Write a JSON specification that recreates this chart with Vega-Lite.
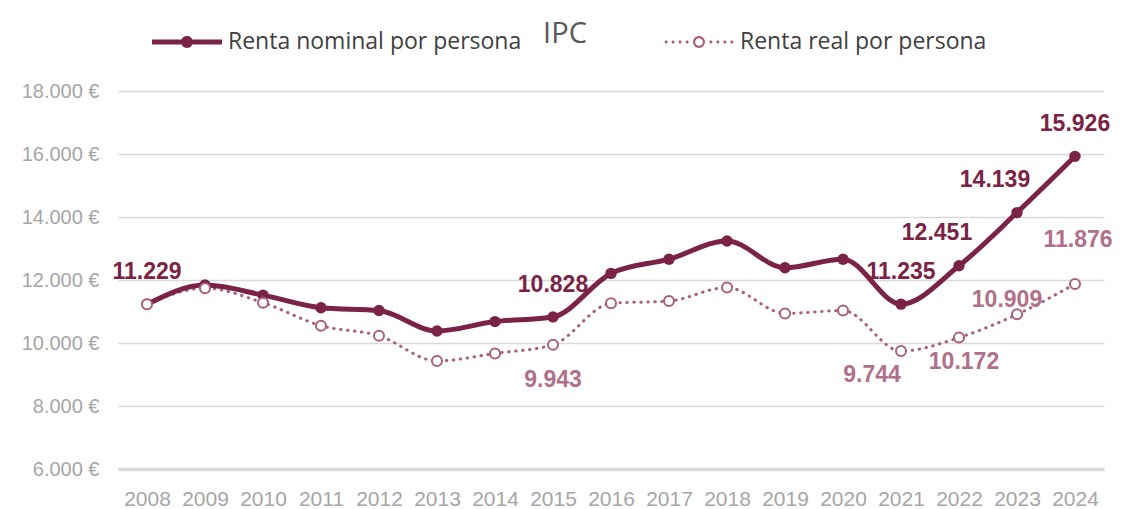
{
  "$schema": "https://vega.github.io/schema/vega-lite/v6.json",
  "width": 986,
  "height": 378,
  "autosize": {"type": "none"},
  "padding": {"left": 118, "top": 91, "right": 24, "bottom": 40},
  "background": "white",
  "config": {
    "view": {"stroke": null},
    "locale": {"number": {"decimal": ",", "thousands": ".", "grouping": [3], "currency": ["", " €"]}}
  },
  "title": {"text": "IPC", "fontSize": 29, "font": "Open Sans", "fontWeight": "normal", "color": "#595959", "anchor": "middle", "frame": "group", "baseline": "alphabetic", "dx": -46, "offset": -65},
  "data": {"values": [
    {"year": "2008", "serie": "Renta nominal por persona", "value": 11229},
    {"year": "2009", "serie": "Renta nominal por persona", "value": 11840},
    {"year": "2010", "serie": "Renta nominal por persona", "value": 11520},
    {"year": "2011", "serie": "Renta nominal por persona", "value": 11120},
    {"year": "2012", "serie": "Renta nominal por persona", "value": 11030},
    {"year": "2013", "serie": "Renta nominal por persona", "value": 10380},
    {"year": "2014", "serie": "Renta nominal por persona", "value": 10680},
    {"year": "2015", "serie": "Renta nominal por persona", "value": 10828},
    {"year": "2016", "serie": "Renta nominal por persona", "value": 12210},
    {"year": "2017", "serie": "Renta nominal por persona", "value": 12660},
    {"year": "2018", "serie": "Renta nominal por persona", "value": 13240},
    {"year": "2019", "serie": "Renta nominal por persona", "value": 12390},
    {"year": "2020", "serie": "Renta nominal por persona", "value": 12660},
    {"year": "2021", "serie": "Renta nominal por persona", "value": 11235},
    {"year": "2022", "serie": "Renta nominal por persona", "value": 12451},
    {"year": "2023", "serie": "Renta nominal por persona", "value": 14139},
    {"year": "2024", "serie": "Renta nominal por persona", "value": 15926},
    {"year": "2008", "serie": "Renta real por persona", "value": 11229},
    {"year": "2009", "serie": "Renta real por persona", "value": 11740},
    {"year": "2010", "serie": "Renta real por persona", "value": 11280},
    {"year": "2011", "serie": "Renta real por persona", "value": 10550},
    {"year": "2012", "serie": "Renta real por persona", "value": 10230},
    {"year": "2013", "serie": "Renta real por persona", "value": 9430},
    {"year": "2014", "serie": "Renta real por persona", "value": 9670},
    {"year": "2015", "serie": "Renta real por persona", "value": 9943},
    {"year": "2016", "serie": "Renta real por persona", "value": 11260},
    {"year": "2017", "serie": "Renta real por persona", "value": 11330},
    {"year": "2018", "serie": "Renta real por persona", "value": 11760},
    {"year": "2019", "serie": "Renta real por persona", "value": 10940},
    {"year": "2020", "serie": "Renta real por persona", "value": 11030},
    {"year": "2021", "serie": "Renta real por persona", "value": 9744},
    {"year": "2022", "serie": "Renta real por persona", "value": 10172},
    {"year": "2023", "serie": "Renta real por persona", "value": 10909},
    {"year": "2024", "serie": "Renta real por persona", "value": 11876}
  ]},
  "encoding": {
    "x": {"field": "year", "type": "ordinal", "sort": "ascending",
      "axis": {"orient": "bottom", "title": null, "labelAngle": 0, "ticks": false, "grid": false, "domainColor": "#D9D9D9", "domainWidth": 3.5, "labelFont": "Liberation Sans", "labelFontSize": 21, "labelColor": "#A6A6A6", "labelPadding": 19}},
    "y": {"field": "value", "type": "quantitative", "scale": {"domain": [6000, 18000], "nice": false, "zero": false},
      "axis": {"orient": "left", "title": null, "values": [6000, 8000, 10000, 12000, 14000, 16000, 18000], "format": "$,.0f", "domain": false, "ticks": false, "gridColor": "#D9D9D9", "gridWidth": 1.3, "labelFont": "Liberation Sans", "labelFontSize": 20, "labelColor": "#A6A6A6", "labelPadding": 19}}
  },
  "layer": [
    {
      "mark": {"type": "point", "filled": true, "opacity": 0, "size": 1},
      "encoding": {
        "color": {"field": "serie", "type": "nominal",
          "scale": {"domain": ["Renta nominal por persona", "Renta real por persona"], "range": ["#7A2346", "#A8607A"]},
          "legend": {
            "title": null, "orient": "none", "legendX": 34, "legendY": -84, "direction": "horizontal",
            "symbolSize": 4900, "labelFont": "Open Sans", "labelFontSize": 23, "labelColor": "#404040", "labelLimit": 500,
            "labelOffset": 6, "columnPadding": 142,
            "encode": {"symbols": {"update": {
              "opacity": {"value": 1},
              "stroke": {"value": "transparent"},
              "strokeWidth": {"value": 0}
            }}}
          }},
        "shape": {"field": "serie", "type": "nominal",
          "scale": {"domain": ["Renta nominal por persona", "Renta real por persona"],
            "range": ["M-1,-0.07L1,-0.07L1,0.07L-1,0.07ZM0.17,0A0.17,0.17,0,1,1,-0.17,0A0.17,0.17,0,1,1,0.17,0Z",
              "M0.17,0A0.17,0.17,0,1,1,-0.17,0A0.17,0.17,0,1,1,0.17,0ZM0.11,0A0.11,0.11,0,1,0,-0.11,0A0.11,0.11,0,1,0,0.11,0ZM-0.895,0A0.045,0.045,0,1,1,-0.985,0A0.045,0.045,0,1,1,-0.895,0ZM-0.695,0A0.045,0.045,0,1,1,-0.785,0A0.045,0.045,0,1,1,-0.695,0ZM-0.495,0A0.045,0.045,0,1,1,-0.585,0A0.045,0.045,0,1,1,-0.495,0ZM-0.295,0A0.045,0.045,0,1,1,-0.385,0A0.045,0.045,0,1,1,-0.295,0ZM0.385,0A0.045,0.045,0,1,1,0.295,0A0.045,0.045,0,1,1,0.385,0ZM0.585,0A0.045,0.045,0,1,1,0.495,0A0.045,0.045,0,1,1,0.585,0ZM0.785,0A0.045,0.045,0,1,1,0.695,0A0.045,0.045,0,1,1,0.785,0ZM0.985,0A0.045,0.045,0,1,1,0.895,0A0.045,0.045,0,1,1,0.985,0Z"]}}
      }
    },
    {
      "transform": [{"filter": "datum.serie === 'Renta real por persona'"}],
      "mark": {"type": "line", "color": "#A8607A", "strokeWidth": 3, "strokeDash": [0.5, 6.5], "strokeCap": "round", "interpolate": "monotone"},
      "encoding": {}
    },
    {
      "transform": [{"filter": "datum.serie === 'Renta nominal por persona'"}],
      "mark": {"type": "line", "color": "#7A2346", "strokeWidth": 5, "strokeCap": "round", "strokeJoin": "round", "interpolate": "monotone"},
      "encoding": {}
    },
    {
      "transform": [{"filter": "datum.serie === 'Renta nominal por persona'"}],
      "mark": {"type": "point", "filled": true, "size": 130, "color": "#7A2346", "opacity": 1}
    },
    {
      "transform": [{"filter": "datum.serie === 'Renta real por persona'"}],
      "mark": {"type": "point", "filled": false, "fill": "white", "fillOpacity": 1, "size": 100, "stroke": "#A8607A", "strokeWidth": 2, "opacity": 1}
    },
    {
      "transform": [{"filter": "datum.serie === 'Renta nominal por persona' && indexof(['2008','2015','2021','2024'], datum.year) >= 0"}],
      "mark": {"type": "text", "font": "Liberation Sans", "fontWeight": "bold", "fontSize": 23, "color": "#7A2346", "baseline": "middle", "dy": -32},
      "encoding": {"text": {"field": "value", "type": "quantitative", "format": ",.0f"}}
    },
    {
      "transform": [{"filter": "datum.serie === 'Renta nominal por persona' && indexof(['2022','2023'], datum.year) >= 0"}],
      "mark": {"type": "text", "font": "Liberation Sans", "fontWeight": "bold", "fontSize": 23, "color": "#7A2346", "baseline": "middle", "dx": -22, "dy": -33},
      "encoding": {"text": {"field": "value", "type": "quantitative", "format": ",.0f"}}
    },
    {
      "transform": [{"filter": "datum.serie === 'Renta real por persona' && datum.year === '2015'"}],
      "mark": {"type": "text", "font": "Liberation Sans", "fontWeight": "bold", "fontSize": 23, "color": "#B0708A", "baseline": "middle", "dy": 35},
      "encoding": {"text": {"field": "value", "type": "quantitative", "format": ",.0f"}}
    },
    {
      "transform": [{"filter": "datum.serie === 'Renta real por persona' && datum.year === '2021'"}],
      "mark": {"type": "text", "font": "Liberation Sans", "fontWeight": "bold", "fontSize": 23, "color": "#B0708A", "baseline": "middle", "dx": -29, "dy": 24},
      "encoding": {"text": {"field": "value", "type": "quantitative", "format": ",.0f"}}
    },
    {
      "transform": [{"filter": "datum.serie === 'Renta real por persona' && datum.year === '2022'"}],
      "mark": {"type": "text", "font": "Liberation Sans", "fontWeight": "bold", "fontSize": 23, "color": "#B0708A", "baseline": "middle", "dx": 5, "dy": 24},
      "encoding": {"text": {"field": "value", "type": "quantitative", "format": ",.0f"}}
    },
    {
      "transform": [{"filter": "datum.serie === 'Renta real por persona' && datum.year === '2023'"}],
      "mark": {"type": "text", "font": "Liberation Sans", "fontWeight": "bold", "fontSize": 23, "color": "#B0708A", "baseline": "middle", "dx": -10, "dy": -14},
      "encoding": {"text": {"field": "value", "type": "quantitative", "format": ",.0f"}}
    },
    {
      "transform": [{"filter": "datum.serie === 'Renta real por persona' && datum.year === '2024'"}],
      "mark": {"type": "text", "font": "Liberation Sans", "fontWeight": "bold", "fontSize": 23, "color": "#B0708A", "baseline": "middle", "dx": 3, "dy": -44},
      "encoding": {"text": {"field": "value", "type": "quantitative", "format": ",.0f"}}
    }
  ]
}
